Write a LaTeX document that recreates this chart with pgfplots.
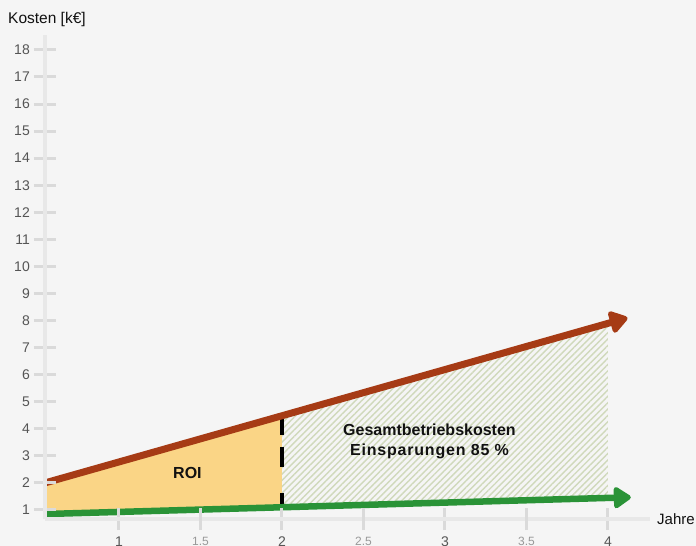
\documentclass[border=0pt]{standalone}
\usepackage{fontspec}
\setmainfont{Liberation Sans}
\usepackage{pgfplots}
\pgfplotsset{compat=1.18}
\usetikzlibrary{patterns.meta,arrows.meta}
\definecolor{bg}{HTML}{F5F5F5}
\definecolor{axisgray}{HTML}{E8E8E8}
\definecolor{tickgray}{HTML}{DADADA}
\definecolor{labgray}{HTML}{555555}
\definecolor{minorlab}{HTML}{999999}
\definecolor{redline}{HTML}{A63B15}
\definecolor{greenline}{HTML}{2A9337}
\definecolor{roifill}{HTML}{FAD586}
\definecolor{hatch}{HTML}{D0D9BB}
\definecolor{txt}{HTML}{111111}
\begin{document}
\begin{tikzpicture}[font=\fontsize{14bp}{16bp}\selectfont]
\fill[bg] (-45bp,-27bp) rectangle (651bp,519bp);
\useasboundingbox (-45bp,-27bp) rectangle (651bp,519bp);
\begin{axis}[
  at={(0,0)}, anchor=south west,
  scale only axis, width=605bp, height=484bp,
  xmin=0.546, xmax=4.258, ymin=0.667, ymax=18.55,
  axis lines=left,
  axis line style={-, line width=4bp, color=axisgray},
  axis on top,
  xtick={1,2,3,4}, ytick={1,2,...,18},
  extra x ticks={1.5,2.5,3.5},
  extra x tick style={xticklabel style={font=\fontsize{12bp}{14bp}\selectfont, text=minorlab}},
  major tick length=22bp, tick align=center,
  tick style={line width=3bp, color=tickgray},
  /pgf/number format/assume math mode=true,
  yticklabel style={text=labgray, inner sep=0pt, xshift=-4bp},
  xticklabel style={text=labgray, inner sep=0pt, yshift=-7bp},
  clip=false,
]
\addplot[draw=none, fill=roifill] coordinates {(0.55,0.85) (2,1.10) (2,4.47) (0.55,2.0)} -- cycle;
\addplot[draw=none, pattern={Lines[angle=45,distance=4.5bp,line width=1.4bp]}, pattern color=hatch]
  coordinates {(2,1.10) (4,1.44) (4,7.9) (2,4.47)} -- cycle;
\addplot[black, line width=3.5bp, dash pattern=on 22bp off 12bp on 20bp off 26bp on 14bp off 10bp]
  coordinates {(2,4.57) (2,1.10)};
\addplot[redline, line width=7bp, -{Triangle[length=20bp,width=25bp,round]}]
  coordinates {(0.546,2.0) (4.12,8.10)};
\addplot[greenline, line width=6.5bp, -{Triangle[length=19bp,width=24bp,round]}]
  coordinates {(0.546,0.85) (4.14,1.47)};
\node[anchor=base, inner sep=0pt, text=txt, font=\fontsize{16bp}{18bp}\selectfont\bfseries] at (axis cs:1.42,2.18) {ROI};
\node[anchor=base, inner sep=0pt, text=txt, font=\fontsize{16bp}{18bp}\selectfont\bfseries] at (axis cs:2.905,3.735) {Gesamtbetriebskosten};
\node[anchor=base, inner sep=0pt, text=txt, font=\fontsize{16bp}{18bp}\selectfont\bfseries\addfontfeature{LetterSpace=5}] at (axis cs:2.905,2.996) {Einsparungen 85 \%};
\end{axis}
\node[anchor=base west, inner sep=0pt, text=txt, font=\fontsize{15.5bp}{18bp}\selectfont] at (-37bp,495bp) {Kosten [k€]};
\node[anchor=base west, inner sep=0pt, text=txt, font=\fontsize{15bp}{18bp}\selectfont] at (612bp,-5bp) {Jahre};
\end{tikzpicture}
\end{document}
